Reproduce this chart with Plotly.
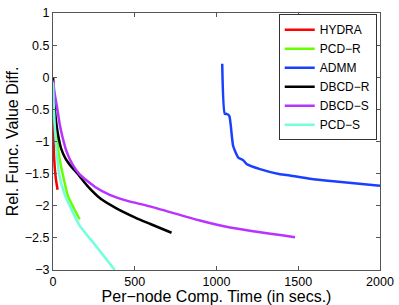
import plotly.graph_objects as go

# HYDRA
hydra_x = [0, 1, 2, 4, 8, 14, 22, 28]
hydra_y = [0, -0.3, -0.65, -1.0, -1.3, -1.5, -1.66, -1.75]
# PCD-R
pcdr_x = [0, 5, 12, 25, 41, 57, 92, 130, 163]
pcdr_y = [-0.05, -0.4, -0.7, -1.0, -1.28, -1.48, -1.85, -2.05, -2.21]
# ADMM
admm_x = [1035, 1051, 1062, 1078, 1102, 1133, 1163, 1184, 1266, 1388, 1449, 1572, 1715, 2000]
admm_y = [0.21, -0.57, -0.57, -0.60, -1.07, -1.25, -1.29, -1.35, -1.43, -1.51, -1.53, -1.58, -1.62, -1.69]
# DBCD-R
dbcdr_x = [0, 3, 10, 21, 35, 51, 75, 102, 153, 210, 296, 388, 500, 592, 725]
dbcdr_y = [0, -0.2, -0.47, -0.73, -0.95, -1.12, -1.26, -1.36, -1.51, -1.69, -1.90, -2.04, -2.18, -2.28, -2.42]
# DBCD-S
dbcds_x = [0, 10, 25, 41, 60, 82, 120, 163, 265, 347, 450, 592, 898, 1082, 1480]
dbcds_y = [-0.05, -0.25, -0.47, -0.73, -0.95, -1.15, -1.36, -1.51, -1.72, -1.83, -1.92, -2.01, -2.23, -2.34, -2.49]
# PCD-S
pcds_x = [0, 4, 10, 22, 37, 72, 102, 163, 245, 310, 378]
pcds_y = [-0.08, -0.4, -0.73, -1.15, -1.51, -1.83, -2.0, -2.31, -2.57, -2.78, -3.0]

series = [
    ("HYDRA", hydra_x, hydra_y, "#ff0000"),
    ("PCD−R", pcdr_x, pcdr_y, "#66ff00"),
    ("ADMM", admm_x, admm_y, "#1a40ff"),
    ("DBCD−R", dbcdr_x, dbcdr_y, "#000000"),
    ("DBCD−S", dbcds_x, dbcds_y, "#b833ff"),
    ("PCD−S", pcds_x, pcds_y, "#73ffdd"),
]

x_ticks = [0, 500, 1000, 1500, 2000]
y_ticks = [1, 0.5, 0, -0.5, -1, -1.5, -2, -2.5, -3]

fig = go.Figure()
for name, xs, ys, col in series:
    fig.add_trace(go.Scatter(x=xs, y=ys, mode="lines", name=name,
                             line=dict(color=col, width=2.5, shape="spline", smoothing=0.6)))

font = "Liberation Sans, Arial, Helvetica, sans-serif"
fig.update_layout(
    width=399, height=305,
    margin=dict(l=53, r=19, t=13, b=35, autoexpand=False),
    paper_bgcolor="white", plot_bgcolor="white",
    font=dict(family=font, size=13, color="black"),
    showlegend=True,
    legend=dict(x=0.99, y=0.995, xanchor="right", yanchor="top",
                bgcolor="white", bordercolor="#333333", borderwidth=1,
                font=dict(size=12), itemwidth=30, tracegroupgap=0),
    xaxis=dict(range=[0, 2000], tickvals=x_ticks, ticks="inside", ticklen=4,
               showgrid=False, zeroline=False, showline=True, linecolor="#555555",
               mirror="ticks", tickcolor="#555555", automargin=False,
               tickfont=dict(size=12.5),
               title=dict(text="Per−node Comp. Time (in secs.)", standoff=3)),
    yaxis=dict(range=[-3, 1], tickvals=y_ticks, ticks="inside", ticklen=4,
               showgrid=False, zeroline=False, showline=True, linecolor="#555555",
               mirror="ticks", tickcolor="#555555", automargin=False,
               tickfont=dict(size=12.5),
               title=dict(text="Rel. Func. Value Diff.", standoff=2)),
)
fig.write_html("out.html", config={"displayModeBar": False},
               post_script="document.body.style.margin='0px';document.body.style.overflow='hidden';")
